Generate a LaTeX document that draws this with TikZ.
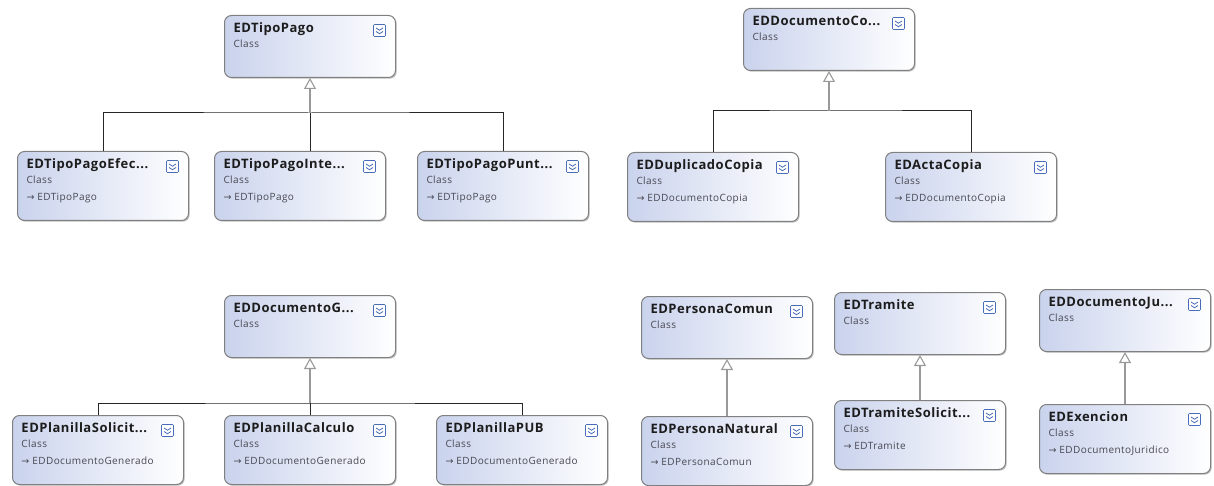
\documentclass[tikz,border=0pt]{standalone}
\usepackage{fontspec}
\setmainfont{Open Sans}
\newfontfamily\arrowfont{DejaVu Sans}
\usetikzlibrary{arrows.meta,shadows,calc}
\definecolor{clsleft}{RGB}{202,211,237}
\definecolor{clsborder}{RGB}{128,128,128}
\definecolor{clsicon}{RGB}{72,108,186}
\definecolor{clsgray}{RGB}{72,72,82}
\definecolor{clstitle}{RGB}{28,28,28}
\tikzstyle{cls} = [rectangle, rounded corners=7pt, draw=clsborder, line width=1pt, left color=clsleft, right color=white, inner sep=0pt, minimum width=171pt, anchor=north west, text=clstitle, drop shadow={shadow xshift=1.2pt, shadow yshift=-1.2pt, opacity=0.25, fill=black}, path picture={
	\draw[clsicon, fill=white, line width=0.6pt, rounded corners=1pt] ([shift={(-22pt,-9pt)}]path picture bounding box.north east) rectangle ++(12pt,-12pt);
	\draw[clsicon, line width=0.8pt, sharp corners] ([shift={(-19.5pt,-12.5pt)}]path picture bounding box.north east) -- ++(3.5pt,-2.2pt) -- ++(3.5pt,2.2pt);
	\draw[clsicon, line width=0.8pt, sharp corners] ([shift={(-19.5pt,-16pt)}]path picture bounding box.north east) -- ++(3.5pt,-2.2pt) -- ++(3.5pt,2.2pt);
}]
\tikzstyle{bus} = [draw=black!85, line width=1pt]
\tikzstyle{genarrow} = [draw=black!40, line width=2.5pt, -{Triangle[open, width=12pt, length=11pt, line width=1.1pt]}]
\newcommand{\classnode}[1]{%
\begin{minipage}[c][62pt][t]{171pt}
\leftskip=9pt\parindent=0pt
{\fontsize{13}{15}\selectfont\bfseries\addfontfeatures{LetterSpace=4}\rule{0pt}{17pt}#1\par}
{\fontsize{10}{15}\selectfont\addfontfeatures{LetterSpace=4}\leavevmode\color{clsgray}Class\par}
\end{minipage}}
\newcommand{\subclassnode}[2]{%
\begin{minipage}[c][69pt][t]{171pt}
\leftskip=9pt\parindent=0pt
{\fontsize{13}{15}\selectfont\bfseries\addfontfeatures{LetterSpace=4}\rule{0pt}{17pt}#1\par}
{\fontsize{10}{15}\selectfont\addfontfeatures{LetterSpace=4}\leavevmode\color{clsgray}Class\par}
{\fontsize{10}{17}\selectfont\addfontfeatures{LetterSpace=4}\leavevmode\color{clsgray}{\arrowfont\fontsize{9.5}{17}\selectfont →}\hspace{3pt}#2\par}
\end{minipage}}

\begin{document}
\begin{tikzpicture}[x=1pt, y=-1pt]
	\useasboundingbox (0,0) rectangle (1214,486);
	\node[cls] (tipopago) at (224,15) {\classnode{EDTipoPago}};
	\node[cls] (tpefec) at (17,151) {\subclassnode{EDTipoPagoEfec...}{EDTipoPago}};
	\node[cls] (tpinte) at (214,151) {\subclassnode{EDTipoPagoInte...}{EDTipoPago}};
	\node[cls] (tppunt) at (417,151) {\subclassnode{EDTipoPagoPunt...}{EDTipoPago}};
	\node[cls] (doccopia) at (743,8) {\classnode{EDDocumentoCo...}};
	\node[cls] (duplicado) at (627,152) {\subclassnode{EDDuplicadoCopia}{EDDocumentoCopia}};
	\node[cls] (actacopia) at (885,152) {\subclassnode{EDActaCopia}{EDDocumentoCopia}};
	\node[cls] (docgen) at (224,295) {\classnode{EDDocumentoG...}};
	\node[cls] (plsolicit) at (12,415) {\subclassnode{EDPlanillaSolicit...}{EDDocumentoGenerado}};
	\node[cls] (plcalculo) at (224,415) {\subclassnode{EDPlanillaCalculo}{EDDocumentoGenerado}};
	\node[cls] (plpub) at (436,415) {\subclassnode{EDPlanillaPUB}{EDDocumentoGenerado}};
	\node[cls] (personacomun) at (641,296) {\classnode{EDPersonaComun}};
	\node[cls] (personanatural) at (641,416) {\subclassnode{EDPersonaNatural}{EDPersonaComun}};
	\node[cls] (tramite) at (834,292) {\classnode{EDTramite}};
	\node[cls] (tramitesol) at (834,400) {\subclassnode{EDTramiteSolicit...}{EDTramite}};
	\node[cls] (docjuridico) at (1039,289) {\classnode{EDDocumentoJu...}};
	\node[cls] (exencion) at (1039,404) {\subclassnode{EDExencion}{EDDocumentoJuridico}};

	\coordinate (tpbar) at ($(tipopago.south)+(0,35)$);
	\coordinate (dcbar) at ($(doccopia.south)+(0,40)$);
	\coordinate (dgbar) at ($(docgen.south)+(0,45)$);

	\draw[bus] (tpefec.north) |- (tpbar) -| (tppunt.north);
	\draw[bus] (tpbar) -- (tpbar |- tpinte.north);
	\draw[genarrow] (tpbar) -- (tipopago);
	\draw[bus] (duplicado.north) |- (dcbar) -| (actacopia.north);
	\draw[genarrow] (dcbar) -- (doccopia);
	\draw[bus] (plsolicit.north) |- (dgbar) -| (plpub.north);
	\draw[bus] (dgbar) -- (plcalculo);
	\draw[genarrow] (dgbar) -- (docgen);
	\draw[genarrow] (personanatural) -- (personacomun);
	\draw[genarrow] (tramitesol) -- (tramite);
	\draw[genarrow] (exencion) -- (docjuridico);
\end{tikzpicture}
\end{document}
